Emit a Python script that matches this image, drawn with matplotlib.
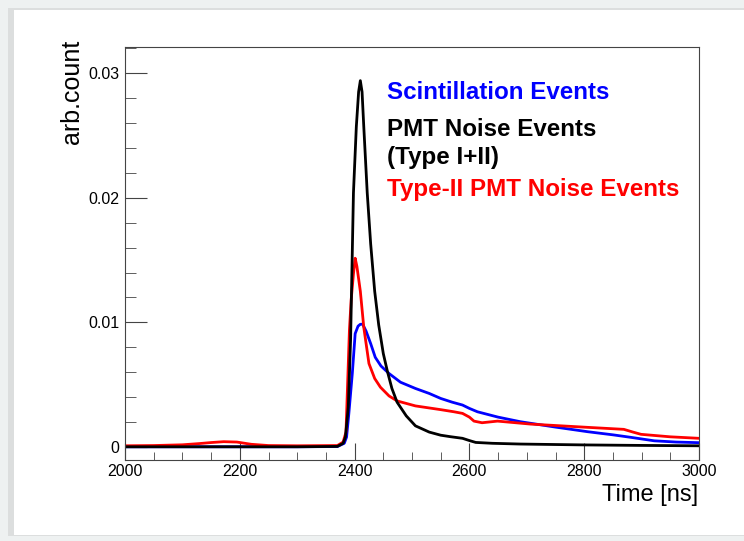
import matplotlib.pyplot as plt
from matplotlib.patches import Rectangle
from matplotlib.ticker import MultipleLocator, FuncFormatter

# Puntos (tiempo en ns, cuentas arbitrarias)
t_scint = [2000, 2100, 2200, 2300, 2370, 2382, 2386, 2390, 2396, 2401, 2406, 2410, 2414,
           2420, 2428, 2436, 2446, 2460, 2480, 2506, 2530, 2550, 2570, 2588, 2600, 2614,
           2650, 2689, 2750, 2806, 2850, 2881, 2922, 2960, 3000]
v_scint = [0.00002, 0.00002, 0.00002, 0.00002, 0.00004, 0.0003, 0.0008, 0.0027, 0.0059, 0.0091,
           0.0097, 0.00985, 0.00986, 0.0093, 0.0083, 0.0072, 0.0065, 0.0059, 0.0052, 0.0047,
           0.0043, 0.0039, 0.0036, 0.00337, 0.0031, 0.00283, 0.0024, 0.00203, 0.0016, 0.00123,
           0.00098, 0.00078, 0.0005, 0.0004, 0.00035]

t_pmt = [2000, 2100, 2200, 2300, 2370, 2380, 2384, 2389, 2393, 2398, 2403, 2407, 2410, 2413,
         2416, 2422, 2428, 2435, 2442, 2450, 2457, 2465, 2474, 2490, 2506, 2530, 2550, 2567,
         2588, 2600, 2611, 2640, 2689, 2800, 2900, 3000]
v_pmt = [0.00002, 0.00002, 0.00002, 0.00002, 0.00005, 0.0003, 0.0008, 0.0032, 0.0086, 0.0204,
         0.0257, 0.0285, 0.0294, 0.0285, 0.0257, 0.0204, 0.0163, 0.0125, 0.0098, 0.0075,
         0.0061, 0.0047, 0.0036, 0.0025, 0.0017, 0.0012, 0.00095, 0.00083, 0.0007, 0.00052,
         0.00037, 0.0003, 0.00024, 0.00017, 0.00013, 0.0001]

t_type2 = [2000, 2050, 2100, 2130, 2150, 2172, 2195, 2220, 2250, 2300, 2370, 2380, 2385,
           2391, 2394, 2398, 2401, 2404, 2410, 2416, 2425, 2435, 2445, 2460, 2474, 2506,
           2550, 2573, 2588, 2600, 2608, 2622, 2649, 2707, 2806, 2869, 2885, 2899, 2950, 3000]
v_type2 = [0.0001, 0.00012, 0.00018, 0.00028, 0.00036, 0.00043, 0.0004, 0.00022, 0.00012,
           0.0001, 0.00012, 0.0004, 0.0012, 0.0094, 0.0118, 0.0139, 0.01515, 0.0145, 0.0125,
           0.0096, 0.0067, 0.0055, 0.0048, 0.0041, 0.0037, 0.0033, 0.003, 0.00283, 0.0027,
           0.0024, 0.00208, 0.00195, 0.00208, 0.00184, 0.00158, 0.00142, 0.0012, 0.00102,
           0.00082, 0.0007]

fig = plt.figure(figsize=(7.44, 5.41), dpi=100)
fig.patch.set_facecolor('#eef1f1')
# panel blanco con sombra
fig.patches.append(Rectangle((8 / 744, 5 / 541), 1.0, 528 / 541, transform=fig.transFigure,
                             facecolor='#dcdede', edgecolor='none', zorder=-10))
fig.patches.append(Rectangle((14 / 744, 6 / 541), 1.0, 525 / 541, transform=fig.transFigure,
                             facecolor='white', edgecolor='none', zorder=-9))

ax = fig.add_axes([125 / 744, 81 / 541, 574 / 744, 413 / 541])
ax.set_zorder(1)
ax.plot(t_scint, v_scint, color='blue', lw=2)
ax.plot(t_type2, v_type2, color='red', lw=2)
ax.plot(t_pmt, v_pmt, color='black', lw=2)

ax.set_xlim(2000, 3000)
ax.set_ylim(-0.00104, 0.0321)
ax.xaxis.set_major_locator(MultipleLocator(200))
ax.xaxis.set_minor_locator(MultipleLocator(50))
ax.yaxis.set_major_locator(MultipleLocator(0.01))
ax.yaxis.set_minor_locator(MultipleLocator(0.002))
ax.yaxis.set_major_formatter(FuncFormatter(lambda v, p: '%g' % round(v, 4)))
ax.tick_params(which='both', direction='in', top=False, right=False,
               labelsize=11.5, color='#444444')
ax.tick_params(axis='x', which='major', length=12, pad=3)
ax.tick_params(axis='x', which='minor', length=6)
ax.tick_params(axis='y', which='major', length=16, pad=4)
ax.tick_params(axis='y', which='minor', length=8)
for s in ax.spines.values():
    s.set_color('#444444')

fnt = 'Liberation Sans'
ax.text(2457, 0.02845, 'Scintillation Events', color='blue', fontsize=17.4,
        fontweight='bold', family=fnt, va='center')
ax.text(2457, 0.02545, 'PMT Noise Events', color='black', fontsize=17.4,
        fontweight='bold', family=fnt, va='center')
ax.text(2457, 0.02325, '(Type I+II)', color='black', fontsize=17.4,
        fontweight='bold', family=fnt, va='center')
ax.text(2457, 0.02065, 'Type-II PMT Noise Events', color='red', fontsize=17.4,
        fontweight='bold', family=fnt, va='center')

for lab in ax.get_xticklabels() + ax.get_yticklabels():
    lab.set_family(fnt)

fig.text(72 / 744, 1 - 40 / 541, 'arb.count', rotation=90, ha='center', va='top',
         fontsize=18, family=fnt)
fig.text(698 / 744, 1 - 495 / 541, 'Time [ns]', ha='right', va='center',
         fontsize=17, family=fnt)

fig.savefig('out.png', dpi=100, facecolor=fig.get_facecolor())
